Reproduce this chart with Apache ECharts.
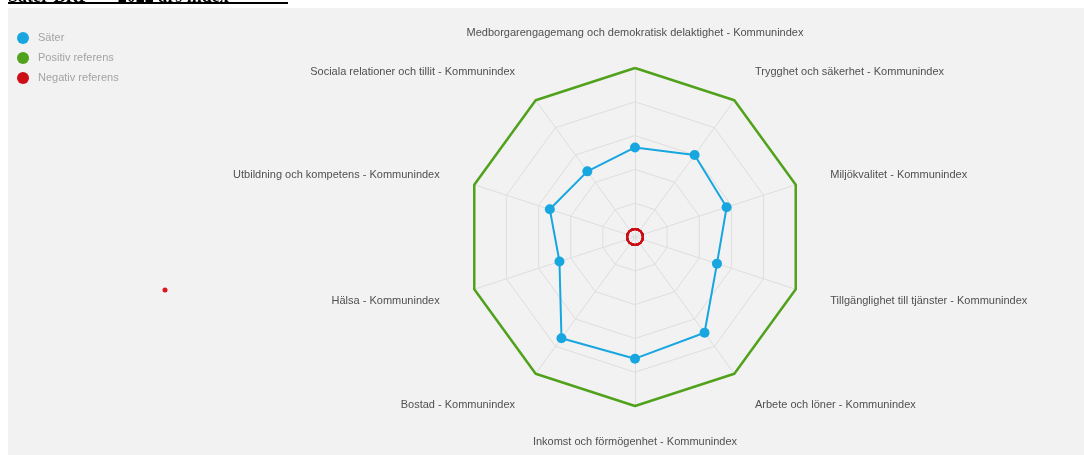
<!DOCTYPE html>
<html>
<head>
<meta charset="utf-8">
<script src="https://cdn.jsdelivr.net/npm/echarts@6/dist/echarts.min.js"></script>
<style>
html,body{margin:0;padding:0;background:#fff;}
#c{width:1084px;height:455px;}
</style>
</head>
<body>
<div id="c"></div>
<script>
// Indicators in clockwise order starting at the top
var categories = [
  'Medborgarengagemang och demokratisk delaktighet - Kommunindex',
  'Trygghet och säkerhet - Kommunindex',
  'Miljökvalitet - Kommunindex',
  'Tillgänglighet till tjänster - Kommunindex',
  'Arbete och löner - Kommunindex',
  'Inkomst och förmögenhet - Kommunindex',
  'Bostad - Kommunindex',
  'Hälsa - Kommunindex',
  'Utbildning och kompetens - Kommunindex',
  'Sociala relationer och tillit - Kommunindex'
];
var saterValues    = [53, 60, 57, 51, 70, 72, 74, 47, 53, 48];
var positivValues  = [100, 100, 100, 100, 100, 100, 100, 100, 100, 100];
var negativValues  = [0, 0, 0, 0, 0, 0, 0, 0, 0, 0];
var seriesNames = ['Säter', 'Positiv referens', 'Negativ referens'];
var titleText = 'Säter BRP+ – 2022 års index';

// ECharts radar runs counter-clockwise: reorder to keep clockwise reading
function ccw(arr) { return [arr[0]].concat(arr.slice(1).reverse()); }

// label nudges (rich style key per indicator, clockwise order)
var labelStyleKeys = ['top', 'ur', 'r1', 'r2', 'lr', 'bot', 'll', 'l2', 'l1', 'ul'];
var base = { color: '#505050', fontSize: 11, fontFamily: 'Liberation Sans' };
function st(p) { return Object.assign({ padding: p }, base); }

var chart = echarts.init(document.getElementById('c'));
chart.setOption({
  animation: false,
  backgroundColor: '#ffffff',
  graphic: [
    { type: 'rect', z: -10, silent: true, shape: { x: 8, y: 8, width: 1076, height: 447 }, style: { fill: '#f2f2f2' } },
    { type: 'text', z: -5, silent: true, style: { x: 8, y: 6, text: titleText, font: 'bold 18px "Liberation Serif"', fill: '#000', verticalAlign: 'bottom' } },
    { type: 'rect', z: -5, silent: true, shape: { x: 8, y: 2, width: 280, height: 2 }, style: { fill: '#000' } },
    { type: 'circle', z: 5, silent: true, shape: { cx: 165, cy: 290, r: 2.5 }, style: { fill: '#e0141c' } }
  ],
  legend: {
    orient: 'vertical',
    left: 12,
    top: 27,
    itemWidth: 12,
    itemHeight: 12,
    itemGap: 8,
    icon: 'circle',
    textStyle: { color: '#a3a3a3', fontSize: 11, fontFamily: 'Liberation Sans', padding: [0, 0, 0, 4] },
    data: [
      { name: seriesNames[0], itemStyle: { color: '#17a6e0', borderWidth: 0 } },
      { name: seriesNames[1], itemStyle: { color: '#50a11c', borderWidth: 0 } },
      { name: seriesNames[2], itemStyle: { color: '#cc0e16', borderWidth: 0 } }
    ]
  },
  radar: {
    center: [635, 237],
    radius: 169,
    shape: 'polygon',
    splitNumber: 5,
    startAngle: 90,
    indicator: ccw(categories).map(function (n) { return { name: n, min: 0, max: 100 }; }),
    axisName: {
      color: '#505050',
      fontSize: 11,
      fontFamily: 'Liberation Sans',
      formatter: function (v) {
        var i = categories.indexOf(v);
        return '{' + labelStyleKeys[i] + '|' + v + '}';
      },
      rich: {
        top: st([0, 0, 0, 0]),
        bot: st([0, 0, 0, 0]),
        ur: st([0, 0, 8, 3]),
        r1: st([0, 0, 2, 6]),
        r2: st([5, 0, 0, 6]),
        lr: st([14, 0, 0, 3]),
        ll: st([14, 3, 0, 0]),
        l2: st([5, 6, 0, 0]),
        l1: st([0, 6, 2, 0]),
        ul: st([0, 3, 8, 0])
      }
    },
    nameGap: 30,
    axisLine: { lineStyle: { color: '#dedede', width: 1 } },
    splitLine: { lineStyle: { color: '#dedede', width: 1 } },
    splitArea: { show: false }
  },
  series: [{
    type: 'radar',
    data: [
      {
        name: seriesNames[1],
        value: ccw(positivValues),
        symbol: 'none',
        lineStyle: { color: '#50a11c', width: 2.5 },
        itemStyle: { color: '#50a11c' }
      },
      {
        name: seriesNames[0],
        value: ccw(saterValues),
        symbol: 'circle',
        symbolSize: 10,
        lineStyle: { color: '#17a6e0', width: 2 },
        itemStyle: { color: '#17a6e0' }
      },
      {
        name: seriesNames[2],
        value: ccw(negativValues),
        symbol: 'circle',
        symbolSize: 16,
        lineStyle: { color: '#cc0e16', width: 2 },
        itemStyle: { color: 'rgba(0,0,0,0)', borderColor: '#cc0e16', borderWidth: 2 }
      }
    ]
  }]
});
</script>
</body>
</html>
